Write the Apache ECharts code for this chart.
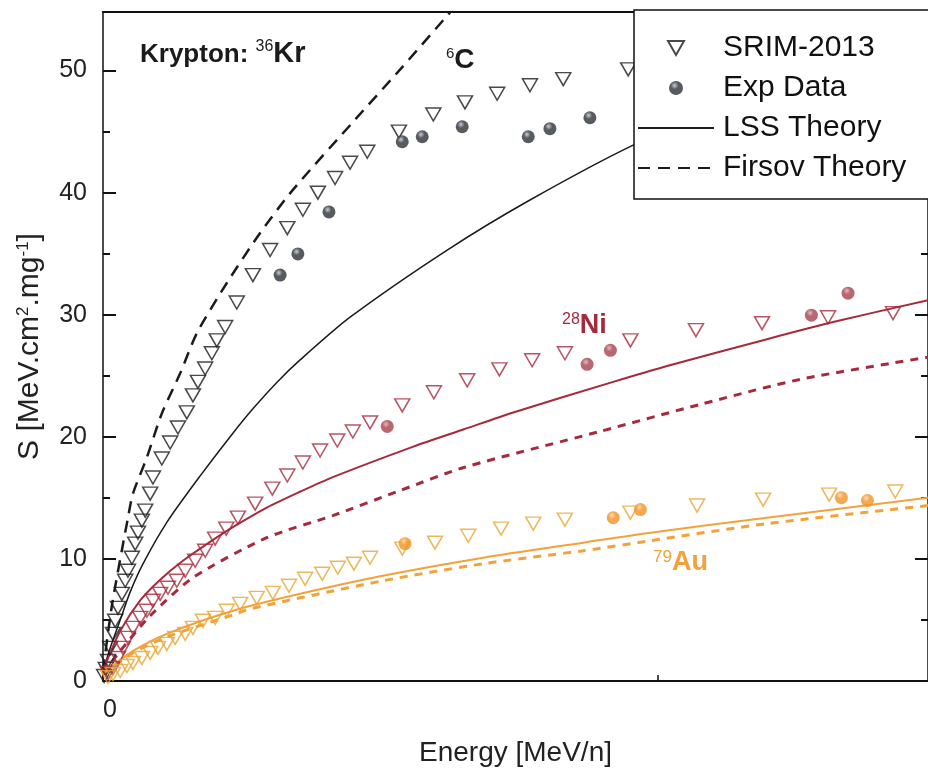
<!DOCTYPE html>
<html><head><meta charset="utf-8">
<script src="https://cdn.jsdelivr.net/npm/echarts@6/dist/echarts.min.js"></script>
<style>html,body{margin:0;padding:0;background:#fff}#c{width:928px;height:777px}</style>
</head><body><div id="c"></div>
<script>
// ---- tick labels ----
const xTickLabels = ['0'];
// ---- Carbon target (6C) ----
const cSrim = [[0.02,0.41],[0.05,0.99],[0.09,1.64],[0.13,2.71],[0.18,3.86],[0.22,4.93],[0.27,5.99],[0.34,7.14],[0.40,8.21],[0.45,9.03],[0.52,10.1],[0.58,11.25],[0.63,12.15],[0.70,13.14],[0.76,13.96],[0.85,15.35],[0.90,16.67],[1.06,18.23],[1.21,19.54],[1.35,20.77],[1.51,22.0],[1.62,23.4],[1.71,24.5],[1.84,25.6],[1.96,26.85],[2.05,27.9],[2.20,29.0],[2.41,31.0],[2.70,33.25],[3.01,35.3],[3.32,37.1],[3.60,38.6],[3.87,40.0],[4.18,41.2],[4.45,42.45],[4.76,43.35],[5.33,45.0],[5.95,46.4],[6.52,47.4],[7.10,48.1],[7.69,48.8],[8.29,49.3],[9.46,50.1]];
const cExp = [[3.19,33.25],[3.51,34.98],[4.07,38.42],[5.39,44.17],[5.75,44.58],[6.47,45.4],[7.66,44.58],[8.05,45.24],[8.77,46.14]];
const cLss = [[0,0.82],[0.13,2.71],[0.31,5.0],[0.49,7.3],[0.72,9.6],[1.15,13.0],[1.75,16.8],[2.34,20.3],[2.70,22.3],[3.14,24.5],[3.55,26.3],[4.45,29.8],[6.2,35.3],[7.69,39.4],[9.55,43.9],[11.0,46.6]];
const cFirsov = [[0,0.82],[0.16,6.16],[0.45,13.38],[0.54,15.35],[0.79,18.31],[1.06,21.92],[1.39,25.2],[1.69,28.49],[2.23,32.6],[2.83,36.7],[3.42,40.23],[4.54,45.98],[5.35,50.08],[6.25,54.76]];
// ---- Nickel target (28Ni) ----
const niSrim = [[0.09,0.66],[0.18,1.07],[0.27,1.89],[0.36,2.71],[0.45,3.53],[0.54,4.35],[0.67,5.17],[0.79,5.75],[0.90,6.57],[1.03,7.14],[1.17,7.64],[1.33,8.21],[1.48,9.03],[1.66,9.85],[1.84,10.67],[2.02,11.66],[2.22,12.48],[2.43,13.38],[2.74,14.53],[3.05,15.76],[3.32,16.83],[3.60,17.9],[3.91,18.88],[4.22,19.7],[4.50,20.44],[4.81,21.18],[5.39,22.58],[5.96,23.65],[6.56,24.63],[7.14,25.53],[7.73,26.27],[8.32,26.85],[9.50,27.9],[10.68,28.74],[11.87,29.31],[13.06,29.8],[14.23,30.13]];
const niExp = [[5.12,20.85],[8.72,25.94],[9.14,27.09],[12.76,29.97],[13.42,31.77]];
const niLss = [[0,0.66],[0.07,1.64],[0.31,4.1],[0.67,6.6],[1.03,8.3],[1.44,9.85],[1.93,11.4],[2.34,12.6],[2.95,14.2],[3.55,15.5],[4.14,16.7],[5.59,19.2],[6.49,20.6],[7.39,22.0],[9.19,24.5],[10.16,25.8],[11.96,28.0],[13.15,29.4],[14.86,31.2]];
const niFirsov = [[0,0.57],[0.31,2.46],[0.85,5.34],[1.62,8.46],[2.95,11.74],[4.14,13.55],[5.35,15.6],[6.50,17.49],[8.95,20.44],[10.76,22.66],[12.56,24.71],[14.86,26.52]];
// ---- Gold target (79Au) ----
const auSrim = [[0.09,0.33],[0.18,0.57],[0.31,0.82],[0.43,1.23],[0.54,1.48],[0.70,1.89],[0.85,2.30],[0.99,2.71],[1.15,3.04],[1.30,3.53],[1.48,3.86],[1.62,4.35],[1.80,4.93],[2.02,5.17],[2.23,5.75],[2.47,6.32],[2.77,6.81],[3.06,7.22],[3.35,7.80],[3.64,8.37],[3.95,8.78],[4.23,9.28],[4.52,9.61],[4.81,10.1],[5.39,10.84],[5.98,11.33],[6.58,11.9],[7.17,12.48],[7.75,12.89],[8.32,13.22],[9.50,13.79],[10.70,14.37],[11.89,14.86],[13.08,15.27],[14.27,15.52]];
const auExp = [[5.44,11.25],[9.19,13.38],[9.68,14.04],[13.30,15.02],[13.77,14.78]];
const auLss = [[0,0.66],[0.13,1.07],[0.54,2.46],[1.15,3.86],[2.34,5.75],[3.55,7.14],[5.04,8.62],[6.85,10.1],[8.65,11.33],[9.86,12.15],[11.96,13.38],[14.86,15.02]];
const auFirsov = [[0,0.57],[0.54,2.30],[1.15,3.61],[2.34,5.42],[2.65,5.91],[5.04,8.21],[6.85,9.61],[8.65,10.67],[9.86,11.49],[11.96,12.89],[14.86,14.37]];

const FONT = "'Liberation Sans', Arial, Helvetica, sans-serif";
const BLACK = '#1b1b1b', NI = '#a52a3c', AU = '#f3a23a', AU_TRI = '#e8a633';

function sphere(base, light) {
  return {type: 'radial', x: 0.4, y: 0.32, r: 0.7,
    colorStops: [{offset: 0, color: light}, {offset: 0.4, color: base}, {offset: 1, color: base}]};
}
function srim(name, data, color) {
  return {name, type: 'scatter', data, symbol: 'triangle', symbolRotate: 180, symbolSize: [15, 13],
    itemStyle: {color: 'rgba(255,255,255,0)', borderColor: color, borderWidth: 1.5}, z: 3};
}
function exp(name, data, base, light) {
  return {name, type: 'scatter', data, symbol: 'circle', symbolSize: 13,
    itemStyle: {color: sphere(base, light)}, z: 4};
}
function line(name, data, color, width, dash) {
  return {name, type: 'line', data, symbol: 'none', smooth: 0.25, z: 2,
    itemStyle: {color},
    lineStyle: {color, width, type: dash || 'solid'}};
}

const chart = echarts.init(document.getElementById('c'), null, {renderer: 'canvas'});
chart.setOption({
  animation: false,
  backgroundColor: '#fff',
  textStyle: {fontFamily: FONT},
  grid: {left: 103, top: 12, right: 0, bottom: 96, containLabel: false, outerBoundsMode: 'none'},
  legend: {
    data: [
      {name: 'SRIM-2013', icon: 'path://M0,0 L16,0 L8,14 Z'},
      {name: 'Exp Data', icon: 'circle'},
      {name: 'LSS Theory', itemStyle: {opacity: 0}},
      {name: 'Firsov Theory', itemStyle: {opacity: 0}}
    ],
    orient: 'vertical', left: 634, top: 10, selectedMode: false,
    itemWidth: 76, itemHeight: 14, itemGap: 10,
    padding: [23, 80, 16, 3],
    backgroundColor: '#fff', borderColor: '#111', borderWidth: 1.5,
    textStyle: {fontSize: 30, fontFamily: FONT, color: '#111', lineHeight: 30, padding: [0, 0, 0, 4]}
  },
  xAxis: [{
    type: 'value', min: 0, max: 14.86, interval: 10, position: 'bottom',
    axisLine: {show: true, onZero: false, lineStyle: {color: '#111', width: 2}},
    axisTick: {show: true, inside: true, length: 6, lineStyle: {color: '#111', width: 1.5}},
    axisLabel: {fontSize: 25, color: '#222', margin: 17, padding: [0, 0, 0, 14], showMaxLabel: false,
      formatter: v => xTickLabels.includes(String(v)) ? String(v) : ''},
    splitLine: {show: false},
    name: 'Energy [MeV/n]', nameLocation: 'middle', nameGap: 58, nameMoveOverlap: false,
    nameTextStyle: {fontSize: 28, color: '#222', fontFamily: FONT}
  }, {
    type: 'value', min: 0, max: 14.86, position: 'top',
    axisLine: {show: true, onZero: false, lineStyle: {color: '#111', width: 2}},
    axisTick: {show: false}, axisLabel: {show: false}, splitLine: {show: false}
  }],
  yAxis: [{
    type: 'value', min: 0, max: 54.8, interval: 10, position: 'left',
    axisLine: {show: true, onZero: false, lineStyle: {color: '#111', width: 1.5}},
    axisTick: {show: true, inside: true, length: 13, lineStyle: {color: '#111', width: 2}},
    minorTick: {show: true, splitNumber: 2, length: 7, lineStyle: {color: '#111', width: 2}},
    axisLabel: {fontSize: 25, color: '#222', margin: 16, showMaxLabel: false},
    splitLine: {show: false},
    name: 'S [MeV.cm{sup|2}.mg{sup|-1}]', nameLocation: 'middle', nameGap: 58, nameMoveOverlap: false,
    nameTextStyle: {fontSize: 30, color: '#222', fontFamily: FONT,
      rich: {sup: {fontSize: 17, verticalAlign: 'top', color: '#222', fontFamily: FONT}}}
  }, {
    type: 'value', min: 0, max: 54.8, interval: 10, position: 'right',
    axisLine: {show: true, onZero: false, lineStyle: {color: '#111', width: 1.5}},
    axisTick: {show: true, inside: true, length: 13, lineStyle: {color: '#111', width: 2}},
    minorTick: {show: true, splitNumber: 2, length: 7, lineStyle: {color: '#111', width: 2}},
    axisLabel: {show: false}, splitLine: {show: false}
  }],
  graphic: [
    {type: 'text', left: 140, top: 39, z: 10, style: {
      text: '{b|Krypton: }{s|36}{k|Kr}', fill: BLACK,
      rich: {b: {fontSize: 26, fontWeight: 'bold', fontFamily: FONT, fill: BLACK, verticalAlign: 'bottom'},
             k: {fontSize: 29, fontWeight: 'bold', fontFamily: FONT, fill: BLACK, verticalAlign: 'bottom'},
             s: {fontSize: 16, fontFamily: FONT, fill: BLACK, verticalAlign: 'top'}}}},
    {type: 'text', left: 446, top: 46, z: 10, style: {
      text: '{s|6}{b|C}', fill: BLACK,
      rich: {b: {fontSize: 28, fontWeight: 'bold', fontFamily: FONT, fill: BLACK, verticalAlign: 'bottom'},
             s: {fontSize: 15, fontFamily: FONT, fill: BLACK, verticalAlign: 'top'}}}},
    {type: 'text', left: 562, top: 312, z: 10, style: {
      text: '{s|28}{b|Ni}', fill: NI,
      rich: {b: {fontSize: 27, fontWeight: 'bold', fontFamily: FONT, fill: NI, verticalAlign: 'bottom'},
             s: {fontSize: 16, fontFamily: FONT, fill: NI, verticalAlign: 'top'}}}},
    {type: 'text', left: 653, top: 549, z: 10, style: {
      text: '{s|79}{b|Au}', fill: AU,
      rich: {b: {fontSize: 27, fontWeight: 'bold', fontFamily: FONT, fill: AU, verticalAlign: 'bottom'},
             s: {fontSize: 17, fontFamily: FONT, fill: AU, verticalAlign: 'top'}}}}
  ],
  series: [
    line('LSS Theory', cLss, BLACK, 1.5),
    line('Firsov Theory', cFirsov, BLACK, 2.5, [12, 8]),
    srim('SRIM-2013', cSrim, BLACK),
    exp('Exp Data', cExp, '#2e3138', '#b9bec8'),
    line('LSS Ni', niLss, NI, 2),
    line('Firsov Ni', niFirsov, NI, 3, [8, 7]),
    srim('SRIM Ni', niSrim, NI),
    exp('Exp Ni', niExp, '#a5424c', '#e3a6ab'),
    line('LSS Au', auLss, AU, 2),
    line('Firsov Au', auFirsov, AU, 3, [8, 7]),
    srim('SRIM Au', auSrim, AU_TRI),
    exp('Exp Au', auExp, '#f29226', '#ffd9a8')
  ]
});
</script></body></html>
